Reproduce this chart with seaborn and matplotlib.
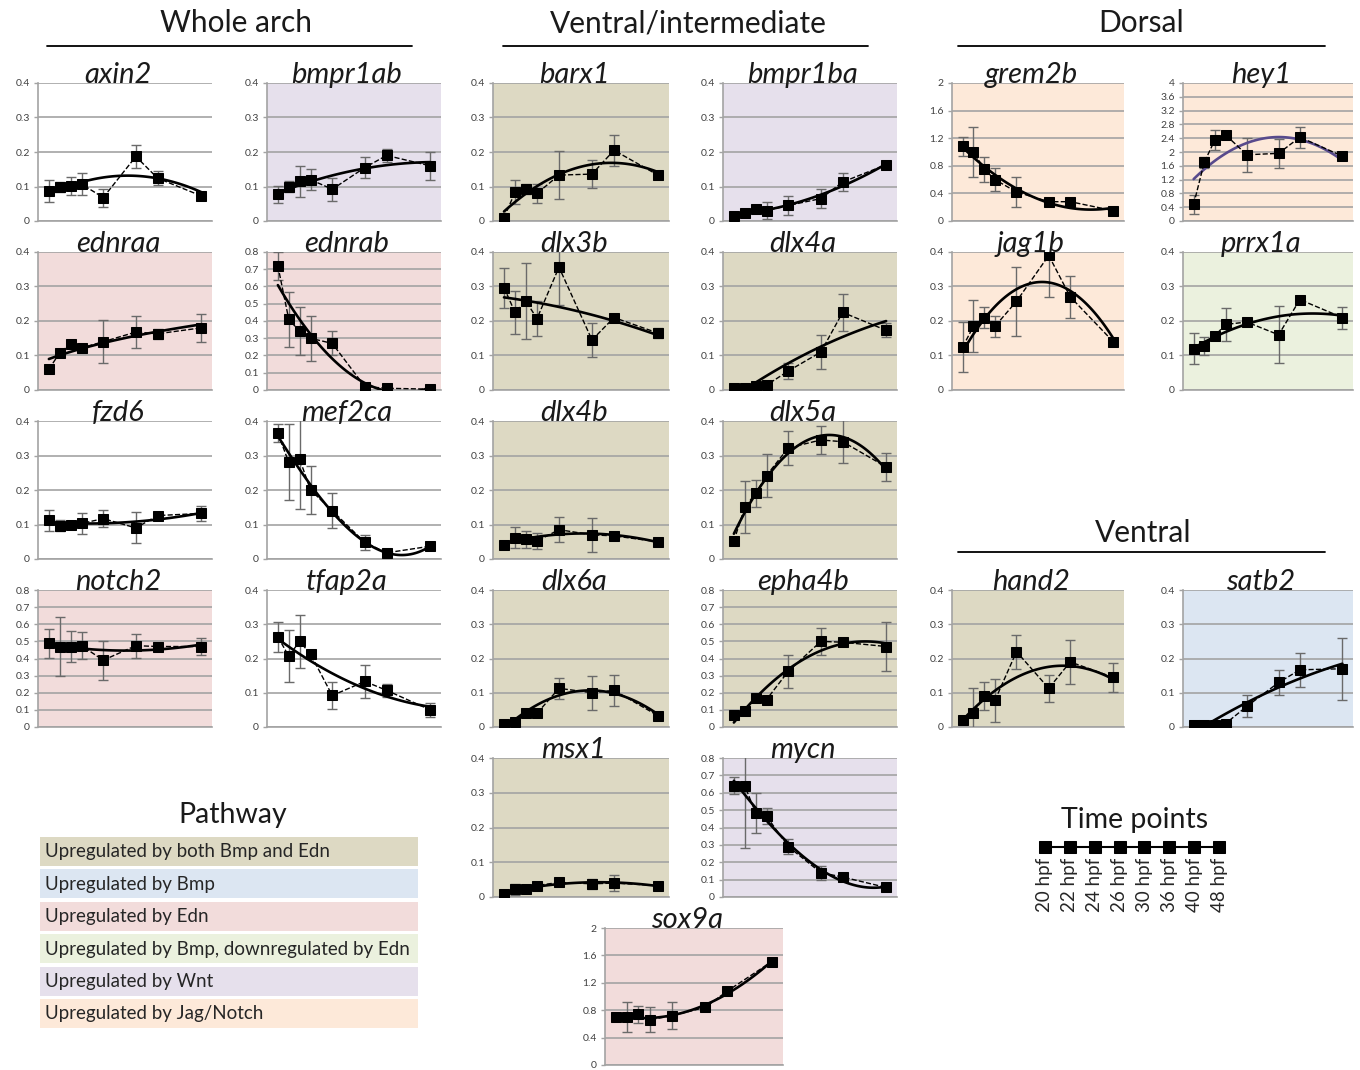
"""
Expression time courses of arch genes (20-48 hpf), grouped by region,
with panel backgrounds coloured by regulating pathway.
"""

import numpy as np
import matplotlib
matplotlib.use('Agg')
import matplotlib.pyplot as plt
from matplotlib.lines import Line2D
from matplotlib.patches import Rectangle
from matplotlib.ticker import MultipleLocator, FormatStrFormatter
import seaborn as sns

W, H = 1360, 1070
sns.set_theme(style='white')
plt.rcParams['font.family'] = ['Lato', 'DejaVu Sans']

# ── Data ────────────────────────────────────────────────────────────────────
HOURS = [20, 22, 24, 26, 30, 36, 40, 48]
HOUR_LABELS = ['20 hpf', '22 hpf', '24 hpf', '26 hpf', '30 hpf', '36 hpf', '40 hpf', '48 hpf']

# Whole arch
axin2 = [0.087, 0.099, 0.102, 0.107, 0.068, 0.187, 0.124, 0.073]
axin2_err = [0.031, 0.015, 0.026, 0.032, 0.026, 0.034, 0.02, 0.012]
bmpr1ab = [0.077, 0.100, 0.115, 0.120, 0.092, 0.155, 0.190, 0.160]
bmpr1ab_err = [0.025, 0.015, 0.045, 0.030, 0.033, 0.030, 0.018, 0.040]
ednraa = [0.060, 0.108, 0.133, 0.122, 0.140, 0.168, 0.163, 0.180]
ednraa_err = [0.005, 0.010, 0.006, 0.010, 0.063, 0.047, 0.015, 0.040]
ednrab = [0.72, 0.41, 0.34, 0.30, 0.27, 0.02, 0.01, 0.005]
ednrab_err = [0.08, 0.16, 0.14, 0.13, 0.07, 0.01, 0.01, 0.005]
fzd6 = [0.112, 0.097, 0.100, 0.103, 0.117, 0.090, 0.126, 0.132]
fzd6_err = [0.030, 0.015, 0.008, 0.030, 0.025, 0.045, 0.008, 0.022]
mef2ca = [0.365, 0.280, 0.290, 0.200, 0.140, 0.048, 0.018, 0.037]
mef2ca_err = [0.025, 0.110, 0.145, 0.070, 0.050, 0.022, 0.005, 0.005]
notch2 = [0.49, 0.47, 0.47, 0.475, 0.39, 0.475, 0.47, 0.47]
notch2_err = [0.085, 0.17, 0.09, 0.08, 0.115, 0.07, 0.02, 0.05]
tfap2a = [0.263, 0.207, 0.250, 0.213, 0.092, 0.133, 0.107, 0.050]
tfap2a_err = [0.045, 0.075, 0.077, 0.010, 0.040, 0.047, 0.020, 0.020]

# Ventral/intermediate
barx1 = [0.010, 0.083, 0.092, 0.080, 0.133, 0.136, 0.205, 0.133]
barx1_err = [0.005, 0.035, 0.015, 0.027, 0.070, 0.040, 0.045, 0.010]
bmpr1ba = [0.015, 0.022, 0.035, 0.030, 0.045, 0.065, 0.113, 0.163]
bmpr1ba_err = [0.005, 0.005, 0.010, 0.025, 0.028, 0.028, 0.025, 0.012]
dlx3b = [0.297, 0.225, 0.257, 0.207, 0.356, 0.145, 0.210, 0.165]
dlx3b_err = [0.058, 0.062, 0.110, 0.050, 0.110, 0.050, 0.010, 0.015]
dlx4a = [0.007, 0.005, 0.012, 0.014, 0.055, 0.110, 0.225, 0.173]
dlx4a_err = [0.004, 0.004, 0.005, 0.005, 0.022, 0.048, 0.053, 0.020]
dlx4b = [0.042, 0.062, 0.057, 0.052, 0.085, 0.070, 0.067, 0.050]
dlx4b_err = [0.005, 0.030, 0.025, 0.022, 0.037, 0.050, 0.005, 0.005]
dlx5a = [0.052, 0.150, 0.190, 0.242, 0.322, 0.345, 0.340, 0.267]
dlx5a_err = [0.005, 0.075, 0.040, 0.062, 0.050, 0.040, 0.063, 0.040]
dlx6a = [0.010, 0.015, 0.042, 0.040, 0.113, 0.100, 0.107, 0.033]
dlx6a_err = [0.004, 0.004, 0.005, 0.005, 0.030, 0.050, 0.045, 0.005]
epha4b = [0.070, 0.095, 0.170, 0.160, 0.325, 0.500, 0.495, 0.470]
epha4b_err = [0.010, 0.020, 0.010, 0.010, 0.095, 0.080, 0.010, 0.145]
msx1 = [0.010, 0.022, 0.022, 0.033, 0.042, 0.038, 0.040, 0.033]
msx1_err = [0.005, 0.015, 0.005, 0.005, 0.010, 0.015, 0.023, 0.008]
mycn = [0.640, 0.640, 0.485, 0.465, 0.290, 0.140, 0.115, 0.055]
mycn_err = [0.050, 0.360, 0.115, 0.045, 0.045, 0.040, 0.010, 0.010]
sox9a = [0.70, 0.70, 0.74, 0.66, 0.72, 0.84, 1.08, 1.51]
sox9a_err = [0.05, 0.22, 0.12, 0.18, 0.20, 0.05, 0.05, 0.05]

# Dorsal
grem2b = [1.08, 1.00, 0.75, 0.60, 0.42, 0.28, 0.28, 0.15]
grem2b_err = [0.14, 0.36, 0.18, 0.17, 0.22, 0.05, 0.05, 0.05]
hey1 = [0.48, 1.70, 2.35, 2.50, 1.92, 1.96, 2.43, 1.88]
hey1_err = [0.27, 0.15, 0.30, 0.10, 0.50, 0.42, 0.30, 0.12]
jag1b = [0.125, 0.185, 0.210, 0.185, 0.257, 0.390, 0.270, 0.140]
jag1b_err = [0.072, 0.075, 0.030, 0.030, 0.100, 0.120, 0.060, 0.010]
prrx1a = [0.120, 0.127, 0.157, 0.190, 0.197, 0.160, 0.262, 0.210]
prrx1a_err = [0.045, 0.027, 0.010, 0.047, 0.010, 0.083, 0.005, 0.032]

# Ventral
hand2 = [0.020, 0.042, 0.090, 0.078, 0.220, 0.113, 0.190, 0.145]
hand2_err = [0.005, 0.073, 0.040, 0.063, 0.050, 0.040, 0.063, 0.043]
satb2 = [0.007, 0.007, 0.007, 0.010, 0.060, 0.130, 0.167, 0.170]
satb2_err = [0.003, 0.003, 0.003, 0.004, 0.032, 0.037, 0.050, 0.090]

PATHWAY_LABELS = ['Upregulated by both Bmp and Edn', 'Upregulated by Bmp',
                  'Upregulated by Edn', 'Upregulated by Bmp, downregulated by Edn',
                  'Upregulated by Wnt', 'Upregulated by Jag/Notch']
PATHWAY_KEYS = ['both', 'bmp', 'edn', 'bmp_edn', 'wnt', 'jag']

# ── Style ───────────────────────────────────────────────────────────────────
BG = {'both': '#DDD9C3', 'bmp': '#DCE6F2', 'edn': '#F2DCDB',
      'bmp_edn': '#EBF1DE', 'wnt': '#E6E0EC', 'jag': '#FDE9D9', None: 'white'}
GRID = '#a3a3a3'
COL_X = [(38, 212), (267, 441), (493, 669), (723, 897), (952, 1124), (1183, 1353)]
ROW_Y = [(83, 221), (252, 390), (421, 559), (590, 727), (758, 897), (928, 1065)]

# name, mean, err, pathway, ymax, ystep, fit order, logx, column, row
PANELS = [
    ('axin2', axin2, axin2_err, None, 0.4, 0.1, 2, False, COL_X[0], ROW_Y[0]),
    ('bmpr1ab', bmpr1ab, bmpr1ab_err, 'wnt', 0.4, 0.1, 2, False, COL_X[1], ROW_Y[0]),
    ('ednraa', ednraa, ednraa_err, 'edn', 0.4, 0.1, 1, True, COL_X[0], ROW_Y[1]),
    ('ednrab', ednrab, ednrab_err, 'edn', 0.8, 0.1, 2, False, COL_X[1], ROW_Y[1]),
    ('fzd6', fzd6, fzd6_err, None, 0.4, 0.1, 2, False, COL_X[0], ROW_Y[2]),
    ('mef2ca', mef2ca, mef2ca_err, None, 0.4, 0.1, 3, False, COL_X[1], ROW_Y[2]),
    ('notch2', notch2, notch2_err, 'edn', 0.8, 0.1, 2, False, COL_X[0], ROW_Y[3]),
    ('tfap2a', tfap2a, tfap2a_err, None, 0.4, 0.1, 2, False, COL_X[1], ROW_Y[3]),
    ('barx1', barx1, barx1_err, 'both', 0.4, 0.1, 2, False, COL_X[2], ROW_Y[0]),
    ('bmpr1ba', bmpr1ba, bmpr1ba_err, 'wnt', 0.4, 0.1, 2, False, COL_X[3], ROW_Y[0]),
    ('dlx3b', dlx3b, dlx3b_err, 'both', 0.4, 0.1, 2, False, COL_X[2], ROW_Y[1]),
    ('dlx4a', dlx4a, dlx4a_err, 'both', 0.4, 0.1, 2, False, COL_X[3], ROW_Y[1]),
    ('dlx4b', dlx4b, dlx4b_err, 'both', 0.4, 0.1, 2, False, COL_X[2], ROW_Y[2]),
    ('dlx5a', dlx5a, dlx5a_err, 'both', 0.4, 0.1, 2, False, COL_X[3], ROW_Y[2]),
    ('dlx6a', dlx6a, dlx6a_err, 'both', 0.4, 0.1, 2, False, COL_X[2], ROW_Y[3]),
    ('epha4b', epha4b, epha4b_err, 'both', 0.8, 0.1, 2, False, COL_X[3], ROW_Y[3]),
    ('msx1', msx1, msx1_err, 'both', 0.4, 0.1, 2, False, COL_X[2], ROW_Y[4]),
    ('mycn', mycn, mycn_err, 'wnt', 0.8, 0.1, 3, False, COL_X[3], ROW_Y[4]),
    ('sox9a', sox9a, sox9a_err, 'edn', 2.0, 0.4, 3, False, (605, 783), ROW_Y[5]),
    ('grem2b', grem2b, grem2b_err, 'jag', 2.0, 0.4, 2, False, COL_X[4], ROW_Y[0]),
    ('hey1', hey1, hey1_err, 'jag', 4.0, 0.4, 2, False, COL_X[5], ROW_Y[0]),
    ('jag1b', jag1b, jag1b_err, 'jag', 0.4, 0.1, 2, False, COL_X[4], ROW_Y[1]),
    ('prrx1a', prrx1a, prrx1a_err, 'bmp_edn', 0.4, 0.1, 2, False, COL_X[5], ROW_Y[1]),
    ('hand2', hand2, hand2_err, 'both', 0.4, 0.1, 2, False, COL_X[4], ROW_Y[3]),
    ('satb2', satb2, satb2_err, 'bmp', 0.4, 0.1, 2, False, COL_X[5], ROW_Y[3]),
]

fig = plt.figure(figsize=(W / 100, H / 100), dpi=100)


def px_axes(x0, y0, x1, y1):
    return fig.add_axes([x0 / W, 1 - y1 / H, (x1 - x0) / W, (y1 - y0) / H])


def hline(x0, x1, y):
    fig.add_artist(Line2D([x0 / W, x1 / W], [1 - y / H, 1 - y / H],
                          color='black', lw=1.3, transform=fig.transFigure))


def panel(name, mean, err, key, ymax, ystep, order, logx, xr, yr):
    ax = px_axes(xr[0], yr[0], xr[1], yr[1])
    ax.set_facecolor(BG[key])
    ax.errorbar(HOURS, mean, yerr=err, fmt='none', ecolor='#6a6a6a',
                elinewidth=1, capsize=3.5, capthick=1, zorder=3)
    trend = '#584a8c' if name == 'hey1' else 'black'
    sns.regplot(x=HOURS, y=mean, order=order, logx=logx, ci=None, scatter=False,
                ax=ax, truncate=True, line_kws={'color': trend, 'lw': 1.9, 'zorder': 4})
    sns.lineplot(x=HOURS, y=mean, ax=ax, color='black', linestyle='--', lw=1,
                 marker='s', markersize=7, markeredgecolor='black', zorder=5)
    ax.set_xlim(18, 50)
    ax.set_ylim(0, ymax)
    ax.yaxis.set_major_locator(MultipleLocator(ystep))
    ax.yaxis.set_major_formatter(FormatStrFormatter('%g'))
    ax.set_xticks([])
    ax.set_xlabel('')
    ax.set_ylabel('')
    ax.yaxis.grid(True, color=GRID, lw=1.2)
    ax.set_axisbelow(True)
    for s in ['top', 'right']:
        ax.spines[s].set_visible(False)
    for s in ['left', 'bottom']:
        ax.spines[s].set_color(GRID)
        ax.spines[s].set_linewidth(1.2)
    ax.tick_params(axis='y', left=True, length=3, width=1, color=GRID,
                   labelsize=7.5, labelcolor='#404040', pad=3)
    # titles sit centred over the whole chart box (ticks included), a bit left
    ax.text(0.5 - 7 / (xr[1] - xr[0]), 1.0, name, transform=ax.transAxes,
            ha='center', va='baseline', fontsize=21, style='italic',
            color='#1a1a1a', zorder=10)


for p in PANELS:
    panel(*p)

# ── Section headers ─────────────────────────────────────────────────────────
for label, xc, y, x0, x1, yl in [('Whole arch', 236, 23, 47, 412, 46),
                                  ('Ventral/intermediate', 688, 23, 503, 868, 46),
                                  ('Dorsal', 1141, 23, 958, 1325, 46),
                                  ('Ventral', 1143, 533, 958, 1325, 552)]:
    fig.text(xc / W, 1 - y / H, label, ha='center', va='center', fontsize=21.5,
             color='#1a1a1a')
    hline(x0, x1, yl)

# ── Pathway legend ──────────────────────────────────────────────────────────
fig.text(233 / W, 1 - 815 / H, 'Pathway', ha='center', va='center', fontsize=20.5,
         color='#1a1a1a')
for i, (lab, key) in enumerate(zip(PATHWAY_LABELS, PATHWAY_KEYS)):
    top = 837 + i * 32.4
    fig.add_artist(Rectangle((40 / W, 1 - (top + 29) / H), 378 / W, 29 / H,
                             transform=fig.transFigure, facecolor=BG[key],
                             edgecolor='none'))
    fig.text(45 / W, 1 - (top + 15) / H, lab, ha='left', va='center',
             fontsize=13.5, color='#262626')

# ── Time points legend ──────────────────────────────────────────────────────
fig.text(1135 / W, 1 - 820 / H, 'Time points', ha='center', va='center',
         fontsize=20.5, color='#1a1a1a')
tax = px_axes(1035, 837, 1229, 857)
tax.set_axis_off()
sns.lineplot(x=list(range(len(HOURS))), y=[0] * len(HOURS), ax=tax, color='black',
             lw=1.5, marker='s', markersize=8, markeredgecolor='black')
tax.set_xlim(-0.4, len(HOURS) - 0.6)
tax.set_ylim(-1, 1)
for i, lab in enumerate(HOUR_LABELS):
    tax.text(i, -1.1, lab, rotation=90, ha='center', va='top', fontsize=13.5,
             color='#262626')

fig.savefig('out.png', dpi=100)
